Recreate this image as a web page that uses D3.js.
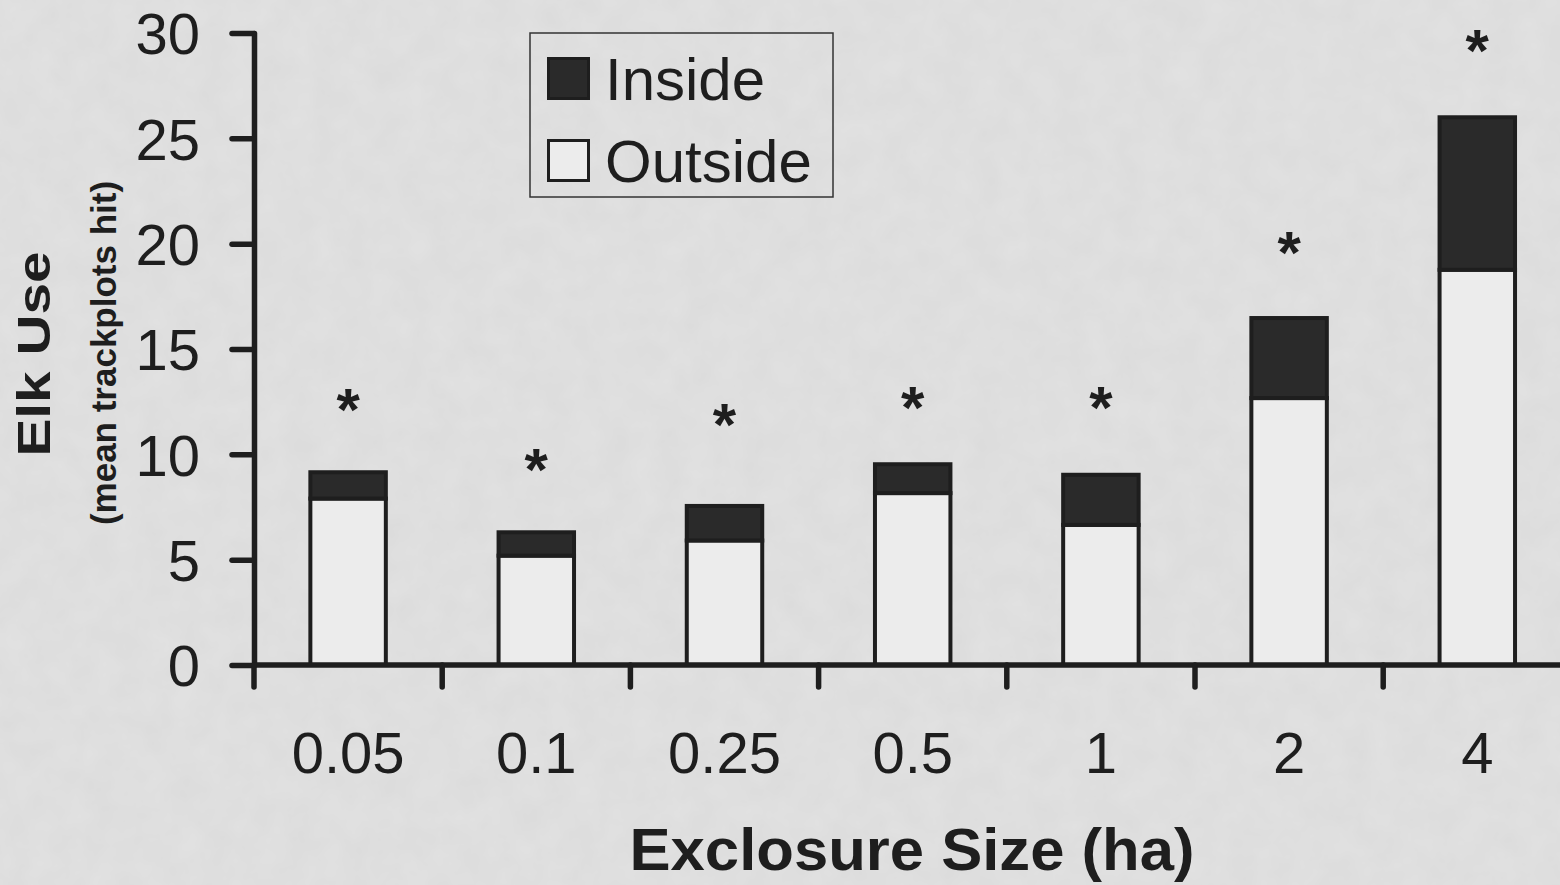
<!DOCTYPE html>
<html>
<head>
<meta charset="utf-8">
<script src="https://cdn.jsdelivr.net/npm/d3@7"></script>
<style>
  html, body { margin: 0; padding: 0; background: #e2e2e2; }
  svg { display: block; }
  text { font-family: "Liberation Sans", Arial, Helvetica, sans-serif; fill: #1e1e1e; }
</style>
</head>
<body>
<svg id="chart" width="1560" height="885"></svg>
<script>
// ---- data ----
const categories = ["0.05", "0.1", "0.25", "0.5", "1", "2", "4"];
const outsideValues = [7.9, 5.19, 5.91, 8.16, 6.65, 12.67, 18.76];
const insideValues  = [1.25, 1.11, 1.64, 1.37, 2.38, 3.80, 7.24];
const starValues    = [12.5, 9.66, 11.77, 12.59, 12.59, 19.95, 29.55];
const seriesNames   = ["Outside", "Inside"];
const legendOrder   = ["Inside", "Outside"];
const yTicks        = [0, 5, 10, 15, 20, 25, 30];

const rows = categories.map((c, i) => ({ cat: c, Outside: outsideValues[i], Inside: insideValues[i] }));

// ---- layout ----
const W = 1560, H = 885;
const svg = d3.select("#chart");
const INK = "#1e1e1e";
const DARK = "#2a2a2a";
const LIGHT = "#ececec";

// background with subtle paper texture
const defs = svg.append("defs");
const f = defs.append("filter").attr("id", "noise").attr("x", 0).attr("y", 0).attr("width", "100%").attr("height", "100%");
f.append("feTurbulence").attr("type", "fractalNoise").attr("baseFrequency", 0.035).attr("numOctaves", 3).attr("seed", 4).attr("result", "t");
f.append("feColorMatrix").attr("type", "matrix")
  .attr("values", "0 0 0 0 0.5  0 0 0 0 0.5  0 0 0 0 0.5  0 0 0 0.18 0");
svg.append("rect").attr("width", W).attr("height", H).attr("fill", "#e2e2e2");
svg.append("rect").attr("width", W).attr("height", H).attr("filter", "url(#noise)");

const x = d3.scaleBand()
  .domain(categories)
  .range([254, 254 + 7 * 188.2])
  .paddingInner(0.599)
  .paddingOuter(0.2995);

const y = d3.scaleLinear().domain([0, 30]).range([665, 33]);

const stack = d3.stack().keys(seriesNames);
const stacked = stack(rows);
const fillFor = { Outside: LIGHT, Inside: DARK };

// ---- bars ----
const gBars = svg.append("g");
stacked.forEach(layer => {
  gBars.selectAll(null)
    .data(layer)
    .join("rect")
    .attr("x", d => x(d.data.cat))
    .attr("width", x.bandwidth())
    .attr("y", d => y(d[1]))
    .attr("height", d => y(d[0]) - y(d[1]))
    .attr("fill", fillFor[layer.key])
    .attr("stroke", INK)
    .attr("stroke-width", 4);
});

// ---- asterisks ----
const starFs = 60;
svg.append("g").selectAll("text")
  .data(categories)
  .join("text")
  .attr("x", d => x(d) + x.bandwidth() / 2)
  .attr("y", (d, i) => y(starValues[i]) + 0.47 * starFs)
  .attr("text-anchor", "middle")
  .attr("font-size", starFs)
  .attr("font-weight", "bold")
  .text("*");

// ---- axes ----
const yAxis = d3.axisLeft(y).tickValues(yTicks).tickSize(22).tickSizeOuter(0).tickPadding(32).tickFormat(d3.format("d"));
const gy = svg.append("g").attr("transform", "translate(254,0)").call(yAxis);
gy.select(".domain").attr("stroke", INK).attr("stroke-width", 5.5).attr("stroke-linecap", "round");
gy.selectAll(".tick line").attr("stroke", INK).attr("stroke-width", 5.5).attr("stroke-linecap", "round");
gy.selectAll(".tick text").attr("font-size", 58).attr("fill", INK).attr("dy", "0.36em")
  .attr("font-family", "'Liberation Sans', Arial, sans-serif");

const xAxis = d3.axisBottom(x).tickSize(0).tickSizeOuter(0).tickPadding(67);
const gx = svg.append("g").attr("transform", "translate(0,665)").call(xAxis);
gx.select(".domain").attr("stroke", INK).attr("stroke-width", 5.5)
  .attr("d", `M${254},0H${W + 20}`);
gx.selectAll(".tick text").attr("font-size", 58).attr("fill", INK)
  .attr("font-family", "'Liberation Sans', Arial, sans-serif");

// boundary ticks between categories
const halfGap = (x.step() - x.bandwidth()) / 2;
gx.append("g").selectAll("line")
  .data(categories)
  .join("line")
  .attr("x1", d => x(d) - halfGap)
  .attr("x2", d => x(d) - halfGap)
  .attr("y1", 0)
  .attr("y2", 22)
  .attr("stroke", INK)
  .attr("stroke-width", 5.5)
  .attr("stroke-linecap", "round");

// ---- titles ----
svg.append("text")
  .attr("transform", "translate(50,354) rotate(-90)")
  .attr("text-anchor", "middle")
  .attr("font-size", 47)
  .attr("font-weight", "bold")
  .attr("textLength", 205)
  .attr("lengthAdjust", "spacingAndGlyphs")
  .text("Elk Use");

svg.append("text")
  .attr("transform", "translate(116,353) rotate(-90)")
  .attr("text-anchor", "middle")
  .attr("font-size", 35)
  .attr("font-weight", "bold")
  .text("(mean trackplots hit)");

svg.append("text")
  .attr("x", 912)
  .attr("y", 870)
  .attr("text-anchor", "middle")
  .attr("font-size", 59)
  .attr("font-weight", "bold")
  .attr("textLength", 565)
  .attr("lengthAdjust", "spacingAndGlyphs")
  .text("Exclosure Size (ha)");

// ---- legend ----
const lg = svg.append("g").attr("transform", "translate(530,33)");
lg.append("rect").attr("x", 0).attr("y", 0).attr("width", 303).attr("height", 164)
  .attr("fill", "none").attr("stroke", "#333").attr("stroke-width", 1.5);
const items = lg.selectAll("g.item").data(legendOrder).join("g")
  .attr("class", "item")
  .attr("transform", (d, i) => `translate(0,${i * 82})`);
items.append("rect")
  .attr("x", 18.5).attr("y", 25.5).attr("width", 40).attr("height", 40)
  .attr("fill", d => fillFor[d]).attr("stroke", INK).attr("stroke-width", 3);
items.append("text")
  .attr("x", 75).attr("y", 67)
  .attr("font-size", 60)
  .text(d => d);
</script>
</body>
</html>
